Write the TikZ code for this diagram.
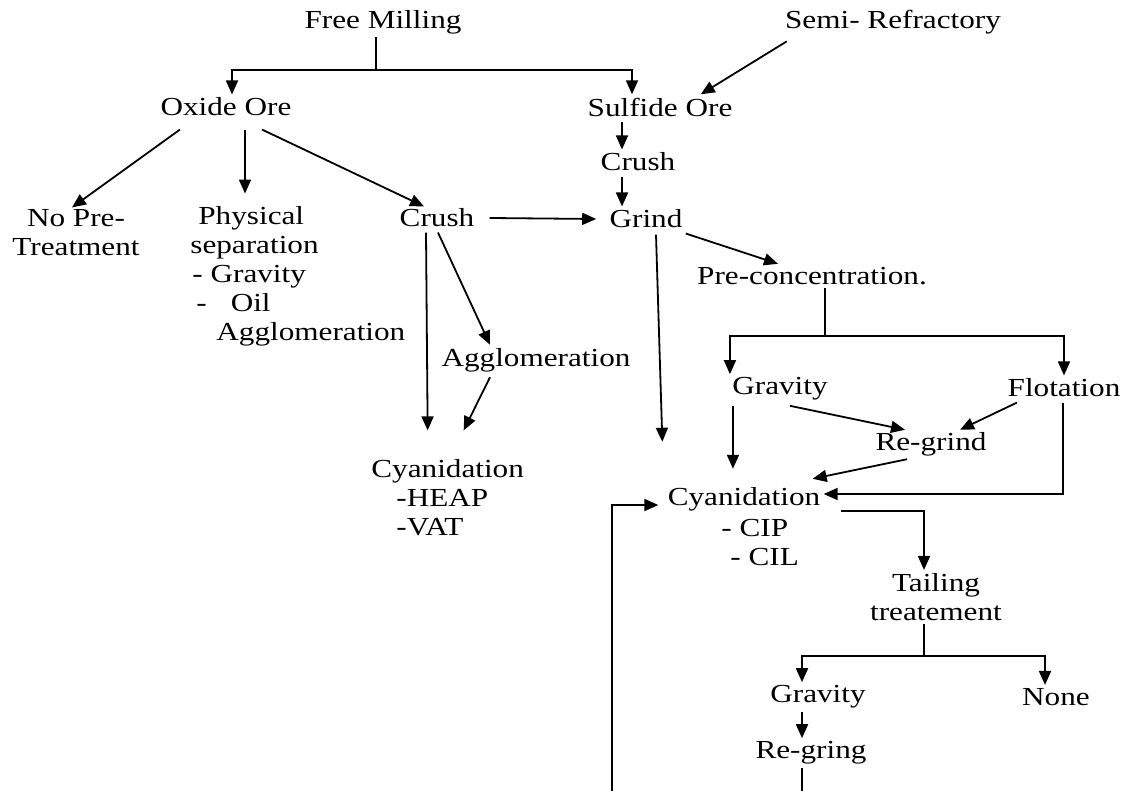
\documentclass[tikz,border=0pt]{standalone}
\usepackage{fontspec}
\setmainfont{Liberation Serif}[FakeStretch=1.2]
\usetikzlibrary{arrows.meta, positioning, calc}

\begin{document}
\begin{tikzpicture}[
  x=0.5pt, y=-0.5pt,
  normal/.style={line width=0.9pt, -{Triangle[length=7pt,width=6pt]}},
  link/.style={line width=0.9pt},
  lbl/.style={
    inner sep=1.5pt,
    align=center,
    font=\fontsize{13}{14.5}\selectfont
  }
]
  \useasboundingbox (0,0) rectangle (1125,791);

  % top row
  \node[lbl] (free) at (383,22) {Free Milling};
  \node[lbl] (semi) at (893,22) {Semi- Refractory};
  \node[lbl] (oxide) at (226,107) {Oxide Ore};
  \node[lbl] (sulfide) at (660,107) {Sulfide Ore};

  % oxide branch
  \node[lbl] (nopre) at (76,233) {No Pre-\\Treatment};
  \node[lbl, align=left, anchor=west] (phys) at (187,276)
    {\hspace{4pt}Physical\\separation\\\hspace{1pt}- Gravity\\\hspace{3pt}-\hspace{12pt}Oil\\\hspace{13pt}Agglomeration};
  \node[lbl] (crushA) at (437,218) {Crush};
  \node[lbl] (agglo) at (536,360) {Agglomeration};
  \node[lbl, align=left, anchor=west] (cyanA) at (368,498)
    {Cyanidation\\\hspace{12.5pt}-HEAP\\\hspace{12.5pt}-VAT};

  % sulfide branch
  \node[lbl] (crushB) at (638,162) {Crush};
  \node[lbl] (grind) at (646,219) {Grind};
  \node[lbl] (precon) at (812,276) {Pre-concentration.};
  \node[lbl] (gravA) at (780,389) {Gravity};
  \node[lbl] (flot) at (1064,388) {Flotation};
  \node[lbl] (regrind) at (931,444) {Re-grind};
  \node[lbl] (cyanB) at (744,499) {Cyanidation};
  \node[lbl, align=left, anchor=west] (cyanBsub) at (718,543) {- CIP\\\hspace{4.5pt}- CIL};
  \node[lbl] (tail) at (936,597) {Tailing\\treatement};
  \node[lbl] (gravB) at (818,697) {Gravity};
  \node[lbl] (none) at (1056,697) {None};
  \node[lbl] (regring) at (811,753) {Re-gring};

  % forks
  \coordinate (fmfork) at (376,70);
  \coordinate (pcfork) at (825,336);
  \coordinate (ttfork) at (924,656);

  \draw[link] (free.south -| fmfork) -- (fmfork);
  \draw[normal] (fmfork) -| ($(oxide.north)+(6,0)$);
  \draw[normal] (fmfork) -| ($(sulfide.north)+(-28,0)$);
  \draw[normal] ($(semi.south west)+(5,4)$) -- ($(sulfide.north east)+(-35,0)$);

  % oxide ore
  \draw[normal] ($(oxide.south)+(-46,10)$) -- ($(nopre.north)+(-4,1)$);
  \draw[normal] ($(oxide.south)+(19,10)$) -- ($(oxide.south)+(19,74)$);
  \draw[normal] ($(oxide.south)+(36,10)$) -- ($(crushA.north)+(-13,1)$);
  \draw[normal] (crushA.east) ++(12,0) -- ($(grind.west)+(-10,0)$);
  \draw[normal] ($(crushA.south)+(-11,2)$) -- ($(cyanA.north)+(-20,-26)$);
  \draw[normal] ($(crushA.south)+(1,2)$) -- ($(agglo.north)+(-46,0)$);
  \draw[normal] ($(agglo.south)+(-46,2)$) -- ($(cyanA.north)+(16,-26)$);

  % sulfide ore
  \draw[normal] ($(sulfide.south)+(-38,2)$) -- ($(crushB.north)+(-16,0)$);
  \draw[normal] ($(crushB.south)+(-16,2)$) -- ($(grind.north)+(-24,0)$);
  \draw[normal] ($(grind.south east)+(0,2)$) -- ($(precon.north)+(-34,0)$);
  \draw[normal] ($(grind.south)+(10,3)$) -- ($(cyanB.north west)+(-2,-42)$);

  % pre-concentration
  \draw[link] (precon.south -| pcfork) -- (pcfork);
  \draw[normal] (pcfork) -| ($(gravA.north west)+(1,0)$);
  \draw[normal] (pcfork) -| (flot.north);
  \draw[normal] ($(gravA.south west)+(4,2)$) -- ($(gravA.south west |- cyanB.north)+(4,-15)$);
  \draw[normal] ($(gravA.south)+(10,2)$) -- ($(regrind.north)+(-26,1)$);
  \draw[normal] ($(flot.south)+(-47,2)$) -- ($(regrind.north)+(29,1)$);
  \draw[normal] ($(regrind.south)+(-24,0)$) -- ($(cyanB.north east)+(-11,-5)$);
  \draw[normal] ($(flot.south)+(-1,2)$) |- ($(cyanB.east)+(0,-5)$);

  % tailing
  \draw[normal] ($(cyanB.east)+(17,12)$) -| ($(tail.north)+(-12,0)$);
  \draw[link] (tail.south -| ttfork) -- (ttfork);
  \draw[normal] (ttfork) -| ($(gravB.north)+(-16,0)$);
  \draw[normal] (ttfork) -| ($(none.north)+(-11,0)$);
  \draw[normal] ($(gravB.south)+(-16,0)$) -- ($(regring.north)+(-9,0)$);
  \draw[normal] ($(regring.south)+(-9,0)$) -- ++(0,60) -| ($(cyanB.west)+(-52,6)$) -- ($(cyanB.west)+(-6,6)$);
\end{tikzpicture}
\end{document}
